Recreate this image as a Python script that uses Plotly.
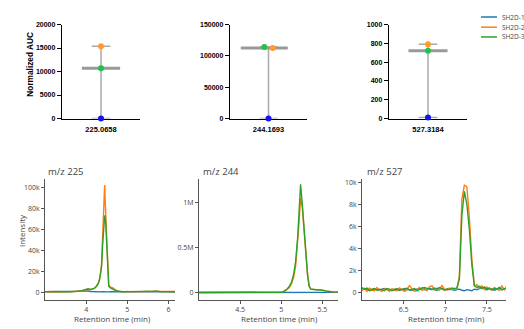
import numpy as np
import plotly.graph_objects as go

# ---------------- data ----------------
SAMPLES = ["SH2D-1", "SH2D-2", "SH2D-3"]

# normalized peak areas per sample (SH2D-1, SH2D-2, SH2D-3)
MZ_LABELS = ["225.0658", "244.1693", "527.3184"]
AUC_225 = [0, 15400, 10700]
AUC_244 = [0, 112500, 114000]
AUC_527 = [10, 790, 720]
AUC_TICKS_225 = [0, 5000, 10000, 15000, 20000]
AUC_TICKS_244 = [0, 50000, 100000, 150000]
AUC_TICKS_527 = [0, 200, 400, 600, 800, 1000]

# extracted ion chromatograms
XIC_TITLES = ["m/z 225", "m/z 244", "m/z 527"]

RT_225 = [3.0, 3.1, 3.2, 3.3, 3.4, 3.5, 3.6, 3.7, 3.8, 3.9, 3.95, 4.0, 4.05, 4.1,
          4.15, 4.2, 4.25, 4.3, 4.325, 4.35, 4.375, 4.4, 4.425, 4.45, 4.475, 4.5,
          4.525, 4.55, 4.6, 4.65, 4.7, 4.75, 4.8, 4.9, 5.0, 5.1, 5.2, 5.3, 5.4,
          5.5, 5.6, 5.7, 5.8, 5.9, 6.0, 6.1, 6.2]
INT_225_SH2D1 = [1000, 1000, 900, 1100, 1000, 900, 1000, 1100, 1200, 1500, 1900, 2100,
                 1700, 1200, 1000, 900, 900, 800, 900, 800, 900, 800, 900, 800, 900,
                 800, 900, 800, 900, 800, 800, 900, 900, 800, 1000, 900, 1000, 900,
                 900, 1000, 900, 1100, 1000, 1000, 900, 1000, 900]
INT_225_SH2D2 = [900, 1100, 800, 1200, 900, 700, 1000, 1200, 1100, 1700, 2400, 3000,
                 3300, 2800, 3200, 4300, 6500, 9500, 13000, 18000, 27000, 50000,
                 80000, 102500, 76000, 47000, 16000, 7000, 5200, 4600, 3000, 1800,
                 1300, 900, 1300, 800, 1100, 900, 1000, 1300, 1100, 1600, 1200, 1300,
                 900, 1000, 1100]
INT_225_SH2D3 = [1100, 900, 1000, 1000, 1100, 800, 900, 1100, 1300, 1900, 2700, 3400,
                 3700, 3100, 3400, 4100, 6000, 9000, 12500, 17500, 25000, 45000,
                 65000, 73500, 67000, 45000, 15000, 6000, 4300, 3800, 2600, 1600,
                 1200, 1000, 1100, 1200, 900, 1000, 1200, 1000, 1300, 1500, 1100,
                 1400, 1100, 900, 1000]

RT_244 = [4.0, 4.1, 4.2, 4.3, 4.4, 4.5, 4.6, 4.7, 4.8, 4.9, 4.95, 5.0, 5.025, 5.05,
          5.075, 5.1, 5.125, 5.15, 5.175, 5.2, 5.215, 5.235, 5.255, 5.275, 5.3,
          5.32, 5.34, 5.36, 5.4, 5.45, 5.5, 5.55, 5.6, 5.65, 5.7]
INT_244_SH2D1 = [3500, 3600, 3500, 3700, 3600, 3500, 3700, 3600, 3800, 3700, 3600,
                 3800, 3700, 3900, 3800, 3700, 3900, 3800, 3700, 3800, 3900, 3800,
                 3700, 3900, 3800, 3700, 3800, 3900, 3800, 3700, 3800, 3900, 3700,
                 3800, 3900]
INT_244_SH2D2 = [2000, 2000, 2000, 2000, 2000, 2000, 2000, 2000, 2000, 3000, 4000,
                 5500, 10000, 20000, 38000, 62000, 100000, 170000, 300000, 540000,
                 760000, 1055000, 960000, 720000, 430000, 200000, 75000, 42000,
                 37000, 35000, 29000, 19000, 11000, 7000, 6000]
INT_244_SH2D3 = [2000, 2000, 2000, 2000, 2000, 2000, 2000, 2000, 2000, 3000, 4000,
                 6000, 12000, 24000, 44000, 72000, 120000, 200000, 350000, 620000,
                 850000, 1207000, 1000000, 740000, 440000, 200000, 70000, 40000,
                 36000, 34000, 28000, 18000, 10000, 7000, 6000]

# m/z 527 was acquired on a regular scan grid
RT_527_START = 6.0
RT_527_STEP = 0.03
INT_527_SH2D1 = [350, 300, 250, 200, 250, 300, 250, 200, 300, 350, 250, 200, 250, 300,
                 250, 200, 250, 350, 300, 250, 200, 250, 300, 350, 300, 250, 300, 350,
                 300, 250, 200, 300, 350, 250, 300, 350, 250, 200, 250, 300, 200, 150,
                 250, 200, 150, 300, 250, 350, 500, 300, 250, 350, 250, 200, 300, 400,
                 250, 300, 450]
INT_527_SH2D2 = [150, 350, 100, 400, 200, 150, 450, 200, 100, 300, 250, 100, 350, 200,
                 150, 400, 250, 100, 200, 650, 300, 100, 250, 450, 200, 350, 150, 500,
                 600, 250, 400, 200, 650, 300, 200, 400, 250, 350, 300, 1500, 8500,
                 9750, 9600, 6800, 3000, 600, 700, 400, 600, 250, 500, 300, 200, 450,
                 300, 200, 600, 250, 550]
INT_527_SH2D3 = [450, 300, 400, 150, 300, 350, 200, 300, 250, 150, 350, 300, 150, 250,
                 350, 200, 300, 250, 400, 200, 300, 350, 150, 300, 400, 450, 350, 300,
                 250, 400, 300, 450, 350, 200, 300, 250, 400, 350, 400, 1200, 7000,
                 9200, 8000, 5700, 2500, 600, 450, 550, 350, 500, 300, 400, 250, 350,
                 300, 450, 250, 300, 400]

XIC_YTICKS_225 = [0, 20000, 40000, 60000, 80000, 100000]
XIC_YTEXT_225 = ["0", "20k", "40k", "60k", "80k", "100k"]
XIC_YTICKS_244 = [0, 500000, 1000000]
XIC_YTEXT_244 = ["0", "0.5M", "1M"]
XIC_YTICKS_527 = [0, 2000, 4000, 6000, 8000, 10000]
XIC_YTEXT_527 = ["0", "2k", "4k", "6k", "8k", "10k"]
XIC_XTICKS_225 = [4, 5, 6]
XIC_XTICKS_244 = [4.5, 5, 5.5]
XIC_XTICKS_527 = [6.5, 7, 7.5]

# ---------------- style ----------------
W, H = 524, 329
DOT_COLORS = ["#1414f0", "#ff9a2e", "#22c04a"]
LINE_COLORS = ["#1f77b4", "#ff7f0e", "#2ca02c"]
GREY_FONT = "#444"
PX = lambda p: p / W
PY = lambda p: 1 - p / H

TOP_X = [(62, 140), (230, 307), (389, 467)]
TOP_Y = (21, 117)
BOT_X = [(45, 175), (199, 338), (362, 506)]
BOT_Y = (179, 302)

BOLD = dict(family="Liberation Sans, Arial, sans-serif", color="black", weight="bold")
SANS = dict(family="Open Sans, sans-serif", color=GREY_FONT)

# per-panel layout of the summary markers
JITTER = [[0, 0, 0], [0, -0.1, -0.1], [0, 0, 0]]
JITTER[1] = [0, 0.11, -0.11]
CAP_HALF = [0.24, 0.24, 0.24]
MED_SPAN = [(-0.49, 0.49), (-0.72, 0.5), (-0.5, 0.5)]

fig = go.Figure()
layout = dict(width=W, height=H, autosize=False, showlegend=False,
              margin=dict(l=0, r=0, t=0, b=0, pad=0),
              paper_bgcolor="white", plot_bgcolor="white",
              annotations=[], shapes=[])

# ---------- summary (AUC) panels ----------
auc_sets = [AUC_225, AUC_244, AUC_527]
auc_ticks = [AUC_TICKS_225, AUC_TICKS_244, AUC_TICKS_527]
for k in range(3):
    xa, ya = f"x{k + 1}", f"y{k + 1}"
    vals = np.array(auc_sets[k], dtype=float)
    lo, hi, med = vals.min(), vals.max(), np.median(vals)
    grey = "#a9a9a9"
    # range whisker
    fig.add_trace(go.Scatter(x=[0, 0], y=[lo, hi], mode="lines", xaxis=xa, yaxis=ya,
                             line=dict(color=grey, width=1.5), cliponaxis=False,
                             hoverinfo="skip"))
    for v in (lo, hi):
        fig.add_trace(go.Scatter(x=[-CAP_HALF[k], CAP_HALF[k]], y=[v, v], mode="lines",
                                 xaxis=xa, yaxis=ya, line=dict(color=grey, width=1.5),
                                 cliponaxis=False, hoverinfo="skip"))
    fig.add_trace(go.Scatter(x=list(MED_SPAN[k]), y=[med, med], mode="lines",
                             xaxis=xa, yaxis=ya, line=dict(color="#999999", width=3),
                             cliponaxis=False, hoverinfo="skip"))
    fig.add_trace(go.Scatter(x=JITTER[k], y=vals, mode="markers", xaxis=xa, yaxis=ya,
                             marker=dict(color=DOT_COLORS, size=6, line=dict(width=0)),
                             cliponaxis=False, text=SAMPLES))
    ticks = auc_ticks[k]
    layout[f"xaxis{k + 1}"] = dict(
        domain=[PX(TOP_X[k][0]), PX(TOP_X[k][1])], anchor=ya, range=[-1, 1],
        showline=True, linecolor="black", linewidth=1.4, showgrid=False,
        zeroline=False, ticks="outside", ticklen=3, tickcolor="rgba(0,0,0,0)",
        tickvals=[0], ticktext=[MZ_LABELS[k]], tickfont=dict(size=7.5, **BOLD),
        layer="below traces", fixedrange=True)
    layout[f"yaxis{k + 1}"] = dict(
        domain=[PY(TOP_Y[1]), PY(TOP_Y[0])], anchor=xa, range=[ticks[0], ticks[-1]],
        showline=True, linecolor="black", linewidth=1.4, showgrid=False,
        zeroline=False, ticks="outside", ticklen=4, tickwidth=1.2, tickcolor="black",
        tickvals=ticks, ticktext=[str(t) for t in ticks],
        tickfont=dict(size=7, **BOLD), layer="below traces", fixedrange=True)

layout["annotations"].append(dict(
    text="Normalized AUC", textangle=-90, x=PX(30), y=PY(62), xref="paper",
    yref="paper", showarrow=False, xanchor="center", yanchor="middle",
    font=dict(size=8.3, **BOLD)))

# ---------- chromatogram panels ----------
xic = [
    dict(x=RT_225, ys=[INT_225_SH2D1, INT_225_SH2D2, INT_225_SH2D3],
         xr=[3.0, 6.16], yr=[-6500, 108000], yt=XIC_YTICKS_225, ytt=XIC_YTEXT_225,
         xt=XIC_XTICKS_225, title_x=46, xtitle_x=112),
    dict(x=RT_244, ys=[INT_244_SH2D1, INT_244_SH2D2, INT_244_SH2D3],
         xr=[4.0, 5.69], yr=[-76000, 1265000], yt=XIC_YTICKS_244, ytt=XIC_YTEXT_244,
         xt=XIC_XTICKS_244, title_x=201, xtitle_x=279),
    dict(x=None, ys=[INT_527_SH2D1, INT_527_SH2D2, INT_527_SH2D3],
         xr=[6.0, 7.73], yr=[-650, 10300], yt=XIC_YTICKS_527, ytt=XIC_YTEXT_527,
         xt=XIC_XTICKS_527, title_x=365, xtitle_x=446),
]
for k, p in enumerate(xic):
    n = k + 4
    xa, ya = f"x{n}", f"y{n}"
    for s in range(3):
        kw = dict(x=p["x"]) if p["x"] is not None else dict(x0=RT_527_START, dx=RT_527_STEP)
        fig.add_trace(go.Scatter(y=p["ys"][s], mode="lines", name=SAMPLES[s],
                                 xaxis=xa, yaxis=ya,
                                 line=dict(color=LINE_COLORS[s], width=1.4), **kw))
    axis_common = dict(showline=True, linecolor="#555", linewidth=1, showgrid=False,
                       zeroline=False, ticks="outside", ticklen=3, tickwidth=1,
                       tickcolor="#555", tickfont=dict(size=7, **SANS), fixedrange=True)
    layout[f"xaxis{n}"] = dict(domain=[PX(BOT_X[k][0]), PX(BOT_X[k][1])], anchor=ya,
                               range=p["xr"], tickvals=p["xt"],
                               ticktext=[f"{t:g}" for t in p["xt"]], **axis_common)
    layout[f"yaxis{n}"] = dict(domain=[PY(BOT_Y[1]), PY(BOT_Y[0])], anchor=xa,
                               range=p["yr"], tickvals=p["yt"], ticktext=p["ytt"],
                               **axis_common)
    layout["annotations"].append(dict(
        text=XIC_TITLES[k], x=PX(p["title_x"]), y=PY(171), xref="paper", yref="paper",
        showarrow=False, xanchor="left", yanchor="middle", font=dict(size=9.5, **SANS)))
    layout["annotations"].append(dict(
        text="Retention time (min)", x=PX(p["xtitle_x"]), y=PY(321.5), xref="paper",
        yref="paper", showarrow=False, xanchor="center", yanchor="middle",
        font=dict(size=8, **SANS)))

layout["annotations"].append(dict(
    text="Intensity", textangle=-90, x=PX(21), y=PY(232), xref="paper", yref="paper",
    showarrow=False, xanchor="center", yanchor="middle", font=dict(size=8, **SANS)))

# ---------- legend ----------
LEG_ROWS = [13.3, 23.7, 33.7]
for s, name in enumerate(SAMPLES):
    layout["shapes"].append(dict(type="line", xref="paper", yref="paper",
                                 x0=PX(481), x1=PX(497), y0=PY(LEG_ROWS[s]),
                                 y1=PY(LEG_ROWS[s]),
                                 line=dict(color=LINE_COLORS[s], width=1.5)))
    layout["annotations"].append(dict(
        text=name, x=PX(500), y=PY(LEG_ROWS[s]), xref="paper", yref="paper",
        showarrow=False, xanchor="left", yanchor="middle", font=dict(size=6.5, **SANS)))

fig.update_layout(**layout)
fig.write_html("out.html", config=dict(displayModeBar=False))
